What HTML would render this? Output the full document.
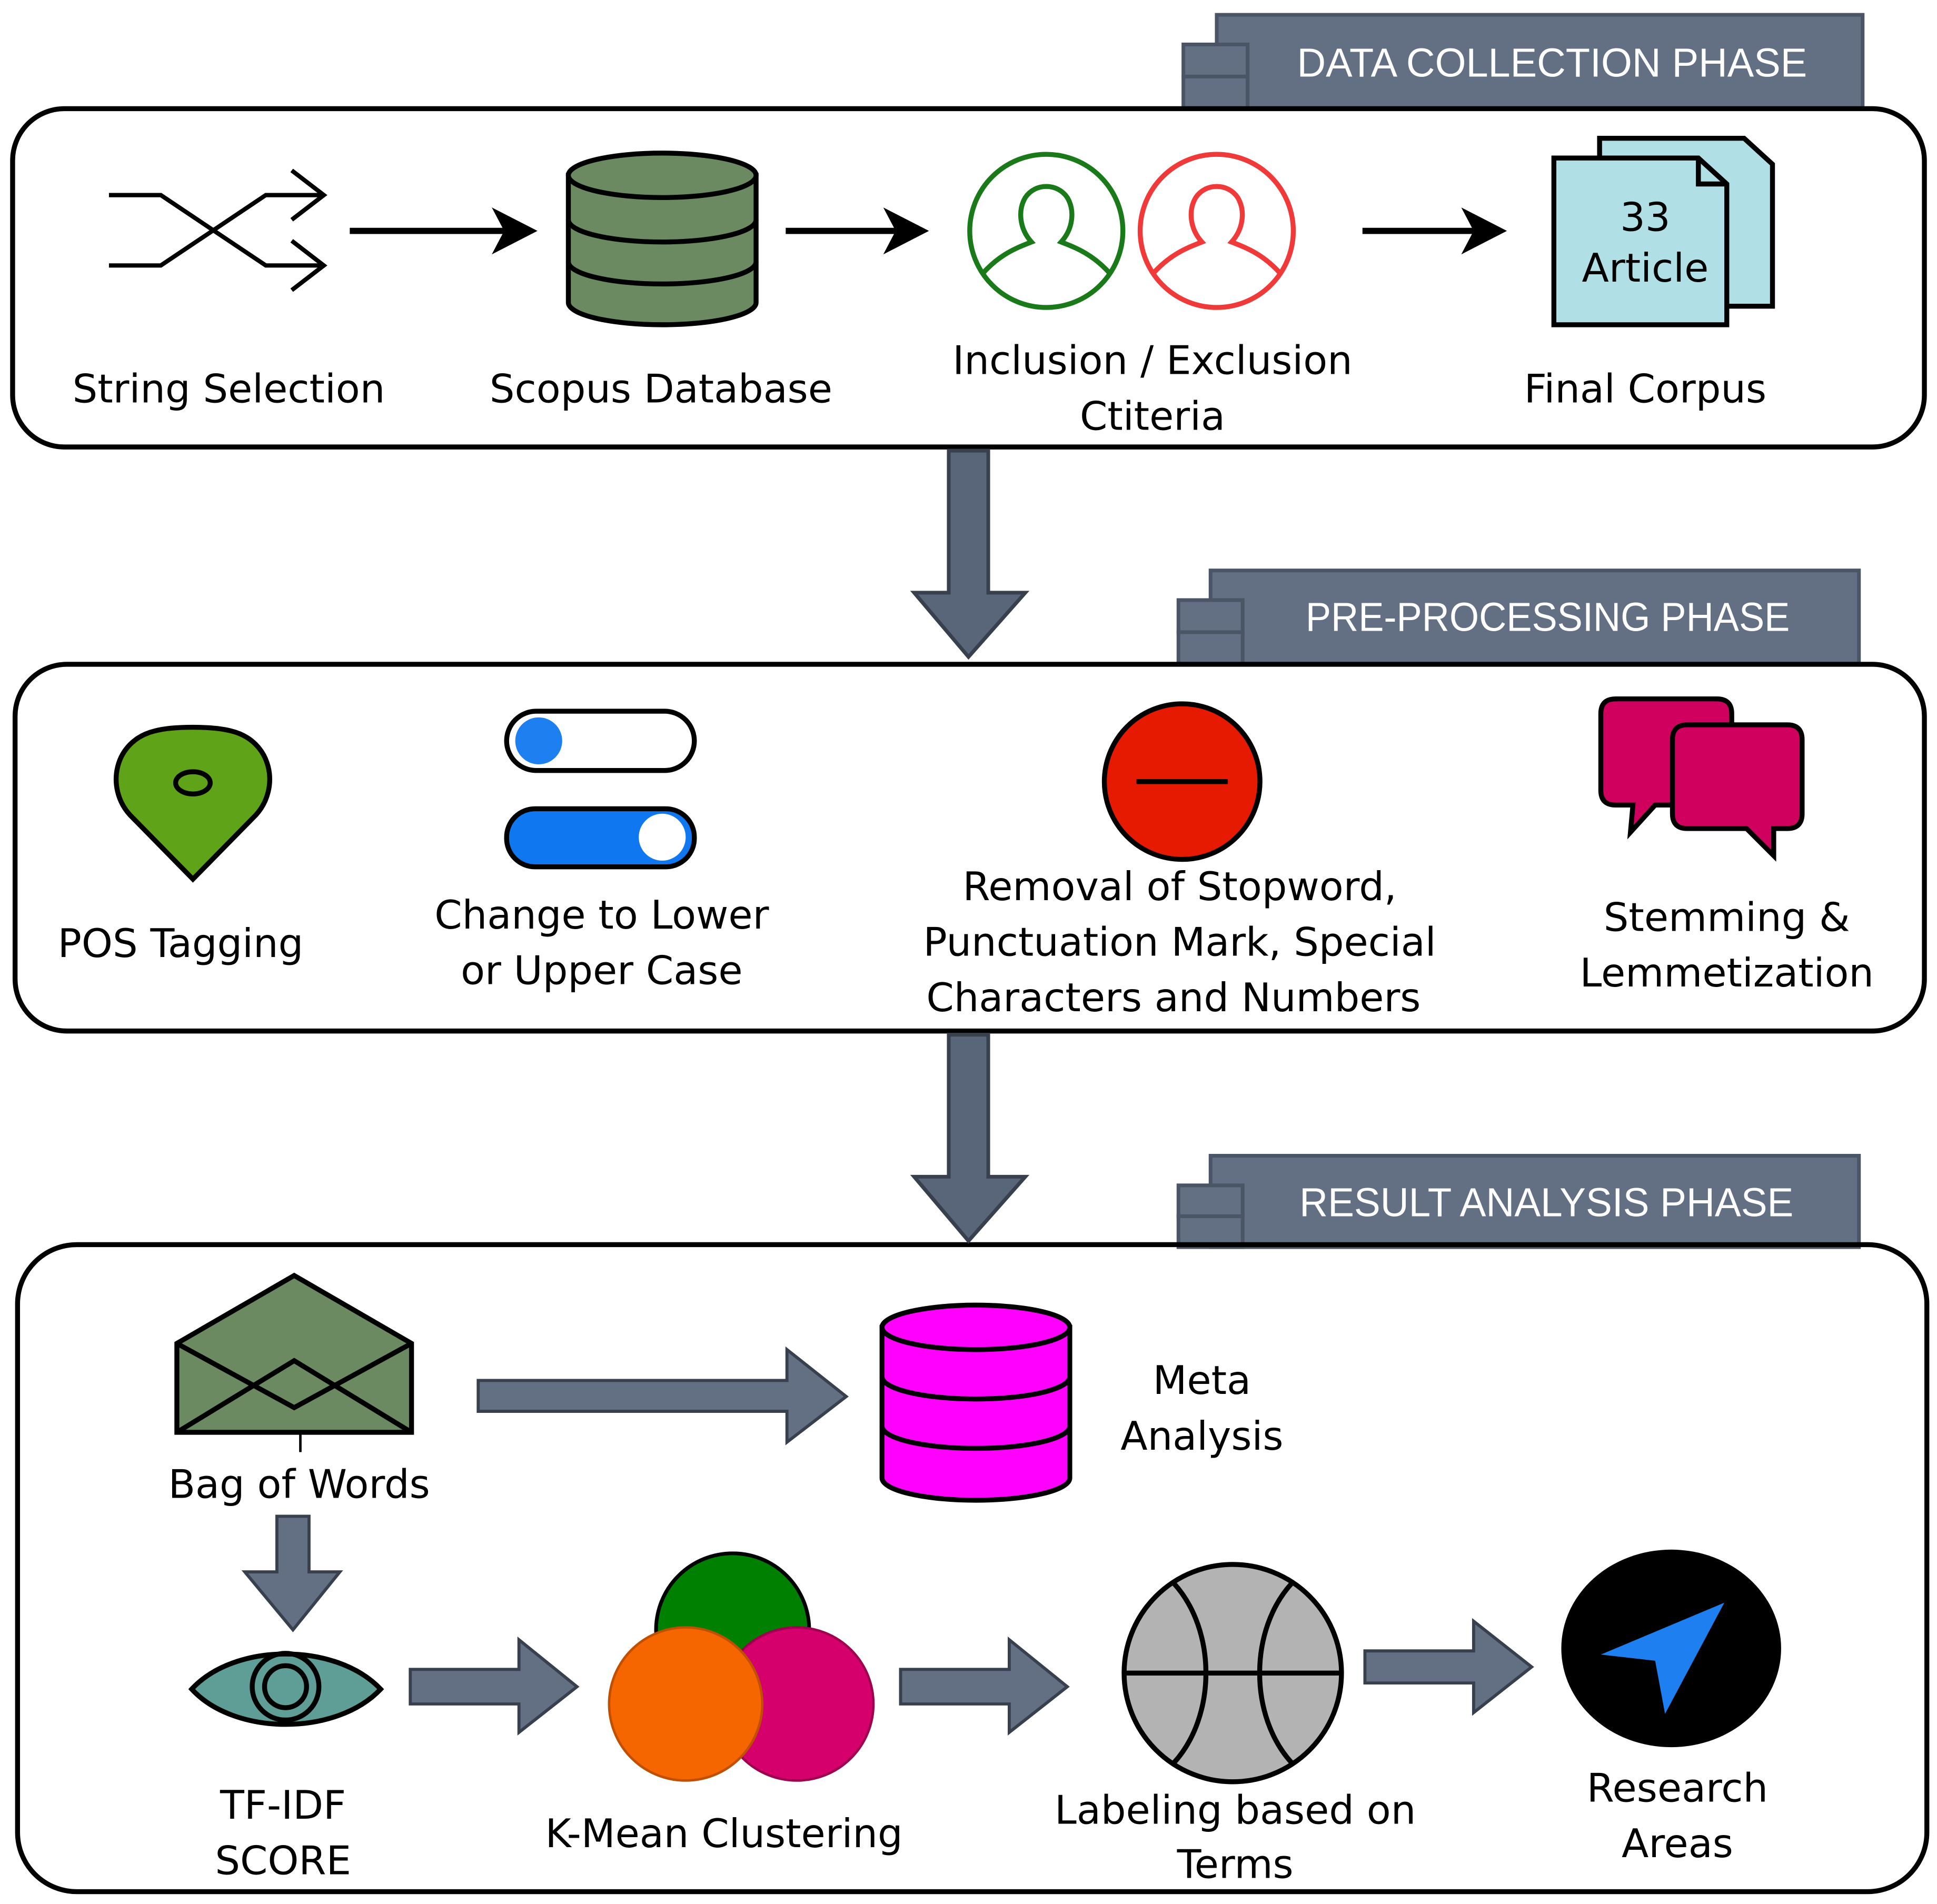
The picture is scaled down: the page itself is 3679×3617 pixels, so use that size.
<!DOCTYPE html>
<html><head><meta charset="utf-8"><style>html,body{margin:0;padding:0;background:#fff}svg{display:block}</style></head>
<body>
<svg width="3679" height="3617" viewBox="0 0 1568 1542" xmlns="http://www.w3.org/2000/svg" font-family="DejaVu Sans, Liberation Sans, sans-serif">
<rect width="1568" height="1542" fill="#fff"/>

<!-- tabs -->
<g fill="#637083" stroke="#4a5566" stroke-width="3">
<rect x="985" y="12" width="523" height="76"/>
<rect x="958" y="36" width="52" height="26"/><rect x="958" y="62" width="52" height="26"/>
<rect x="980" y="462" width="525" height="76"/>
<rect x="954" y="486" width="52" height="26"/><rect x="954" y="512" width="52" height="26"/>
<rect x="980" y="936" width="525" height="74"/>
<rect x="954" y="960" width="52" height="25"/><rect x="954" y="985" width="52" height="25"/>
</g>
<g fill="#fff" font-size="33" font-family="Liberation Sans, sans-serif">
<text x="1050" y="62" textLength="413" lengthAdjust="spacingAndGlyphs">DATA COLLECTION PHASE</text>
<text x="1057" y="511" textLength="392" lengthAdjust="spacingAndGlyphs">PRE-PROCESSING PHASE</text>
<text x="1052" y="985" textLength="400" lengthAdjust="spacingAndGlyphs">RESULT ANALYSIS PHASE</text>
</g>

<!-- panels -->
<g fill="none" stroke="#000" stroke-width="4">
<rect x="10" y="88" width="1548" height="274" rx="42"/>
<rect x="12" y="538" width="1546" height="297" rx="42"/>
<rect x="14" y="1008" width="1546" height="524" rx="48"/>
</g>

<!-- big down arrows -->
<g fill="#596579" stroke="#38404e" stroke-width="3">
<path d="M768,365 H800 V480 H830 L784,532 L740,480 H768 Z"/>
<path d="M768,838 H800 V953 H830 L784,1005 L740,953 H768 Z"/>
</g>

<!-- Panel 1 -->
<g fill="none" stroke="#000" stroke-width="3.5">
<path d="M88,158 H130 L215,215 H262 M88,215 H130 L215,158 H262"/>
<path d="M236,138 L262,158 L236,178 M236,195 L262,215 L236,235"/>
</g>
<g stroke="#000" stroke-width="5">
<line x1="283" y1="187" x2="410" y2="187"/>
<line x1="636" y1="187" x2="725" y2="187"/>
<line x1="1103" y1="187" x2="1195" y2="187"/>
</g>
<g fill="#000">
<path d="M435,187 L398,168 L408,187 L398,206 Z"/>
<path d="M752,187 L715,168 L725,187 L715,206 Z"/>
<path d="M1220,187 L1183,168 L1193,187 L1183,206 Z"/>
</g>
<g fill="#6b8a62" stroke="#000" stroke-width="4">
<path d="M460,142 V245 A76,18 0 0 0 612,245 V142 Z"/>
<ellipse cx="536" cy="142" rx="76" ry="18"/>
<path d="M460,178 A76,18 0 0 0 612,178 M460,212 A76,18 0 0 0 612,212" fill="none"/>
</g>
<circle cx="847" cy="187" r="62" fill="#fff" stroke="#1a7a1a" stroke-width="4"/>
<path d="M795,222 C810,205 825,200 835,196 C825,185 824,170 830,160 C838,148 856,148 864,160 C870,170 869,185 859,196 C869,200 884,205 899,222" fill="none" stroke="#1a7a1a" stroke-width="4"/>
<circle cx="985" cy="187" r="62" fill="#fff" stroke="#f03a3a" stroke-width="4"/>
<path d="M933,222 C948,205 963,200 973,196 C963,185 962,170 968,160 C976,148 994,148 1002,160 C1008,170 1007,185 997,196 C1007,200 1022,205 1037,222" fill="none" stroke="#f03a3a" stroke-width="4"/>
<g fill="#b0e0e6" stroke="#000" stroke-width="4">
<path d="M1295,112 H1412 L1435,133 V248 H1295 Z"/>
<path d="M1258,128 H1375 L1398,149 V263 H1258 Z"/>
<path d="M1375,128 V149 H1398" fill="none"/>
</g>
<g font-size="32" text-anchor="middle" fill="#000">
<text x="1332" y="187">33</text><text x="1332" y="228">Article</text>
<text x="185" y="326">String Selection</text>
<text x="535" y="326">Scopus Database</text>
<text x="933" y="303">Inclusion / Exclusion</text>
<text x="933" y="348">Ctiteria</text>
<text x="1332" y="326">Final Corpus</text>
</g>

<!-- Panel 2 -->
<path d="M156,712 L105,660 C85,638 92,600 125,592 C140,588 172,588 187,592 C220,600 227,638 207,660 Z" fill="#5fa319" stroke="#000" stroke-width="4"/>
<ellipse cx="156" cy="634" rx="14" ry="9" fill="none" stroke="#000" stroke-width="4"/>
<rect x="410" y="576" width="152" height="48" rx="24" fill="#fff" stroke="#000" stroke-width="4"/>
<circle cx="436" cy="600" r="19" fill="#1e7ff0"/>
<rect x="410" y="655" width="152" height="47" rx="23" fill="#0f78f0" stroke="#000" stroke-width="4"/>
<circle cx="536" cy="678" r="19" fill="#fff"/>
<circle cx="957" cy="633" r="63" fill="#e51a00" stroke="#000" stroke-width="4"/>
<line x1="920" y1="633" x2="994" y2="633" stroke="#000" stroke-width="4"/>
<g fill="#d0005f" stroke="#000" stroke-width="4">
<path d="M1308,566 H1390 Q1402,566 1402,578 V640 Q1402,652 1390,652 H1340 L1320,674 L1322,652 H1308 Q1296,652 1296,640 V578 Q1296,566 1308,566 Z"/>
<path d="M1366,587 H1447 Q1459,587 1459,599 V659 Q1459,671 1447,671 H1436 L1436,693 L1414,671 H1366 Q1354,671 1354,659 V599 Q1354,587 1366,587 Z"/>
</g>
<g font-size="32" text-anchor="middle" fill="#000">
<text x="146" y="775">POS Tagging</text>
<text x="487" y="752">Change to Lower</text>
<text x="487" y="797">or Upper Case</text>
<text x="955" y="729">Removal of Stopword,</text>
<text x="955" y="774">Punctuation Mark, Special</text>
<text x="950" y="819">Characters and Numbers</text>
<text x="1398" y="754">Stemming &amp;</text>
<text x="1398" y="799">Lemmetization</text>
</g>

<!-- Panel 3 -->
<g fill="#6b8a62" stroke="#000" stroke-width="4">
<path d="M143,1088 L238,1033 L333,1088 V1160 H143 Z"/>
<path d="M143,1088 L238,1140 L333,1088 M143,1160 L238,1102 L333,1160" fill="none"/>
</g>
<line x1="243" y1="1160" x2="243" y2="1176" stroke="#000" stroke-width="2"/>
<g fill="#637083" stroke="#38404e" stroke-width="2.5">
<path d="M387,1118 H637 V1093 L685,1131 L637,1168 V1143 H387 Z"/>
<path d="M224,1228 H250 V1273 H275 L237,1320 L198,1273 H224 Z"/>
<path d="M332,1352 H420 V1328 L467,1366 L420,1403 V1380 H332 Z"/>
<path d="M729,1352 H817 V1328 L864,1366 L817,1403 V1380 H729 Z"/>
<path d="M1105,1337 H1193 V1313 L1240,1350 L1193,1387 V1363 H1105 Z"/>
</g>
<g fill="#ff00ff" stroke="#000" stroke-width="4">
<path d="M714,1075 V1197 A76,18 0 0 0 866,1197 V1075 Z"/>
<ellipse cx="790" cy="1075" rx="76" ry="18"/>
<path d="M714,1115 A76,18 0 0 0 866,1115 M714,1155 A76,18 0 0 0 866,1155" fill="none"/>
</g>
<path d="M155,1368 C190,1330 272,1330 308,1368 C272,1406 190,1406 155,1368 Z" fill="#5e9e96" stroke="#000" stroke-width="4"/>
<circle cx="231" cy="1366" r="27" fill="none" stroke="#000" stroke-width="4"/>
<circle cx="231" cy="1366" r="17" fill="none" stroke="#000" stroke-width="4"/>
<circle cx="593" cy="1320" r="62" fill="#008000" stroke="#000" stroke-width="3"/>
<circle cx="645" cy="1380" r="62" fill="#d5006b" stroke="#a00050" stroke-width="2"/>
<circle cx="555" cy="1380" r="62" fill="#f56600" stroke="#c05000" stroke-width="2"/>
<circle cx="998" cy="1355" r="88" fill="#b3b3b3" stroke="#000" stroke-width="4"/>
<path d="M910,1355 H1086 M950,1282 C985,1320 985,1390 950,1428 M1046,1282 C1011,1320 1011,1390 1046,1428" fill="none" stroke="#000" stroke-width="4"/>
<ellipse cx="1353" cy="1335" rx="89" ry="80" fill="#000"/>
<path d="M1396,1298 L1296,1340 L1340,1345 L1348,1388 Z" fill="#1e7ff0"/>
<g font-size="32" text-anchor="middle" fill="#000">
<text x="242" y="1213">Bag of Words</text>
<text x="973" y="1129">Meta</text>
<text x="973" y="1174">Analysis</text>
<text x="229" y="1473">TF-IDF</text>
<text x="229" y="1518">SCORE</text>
<text x="586" y="1496">K-Mean Clustering</text>
<text x="1000" y="1477">Labeling based on</text>
<text x="1000" y="1521">Terms</text>
<text x="1358" y="1459">Research</text>
<text x="1358" y="1504">Areas</text>
</g>
</svg>
</body></html>
